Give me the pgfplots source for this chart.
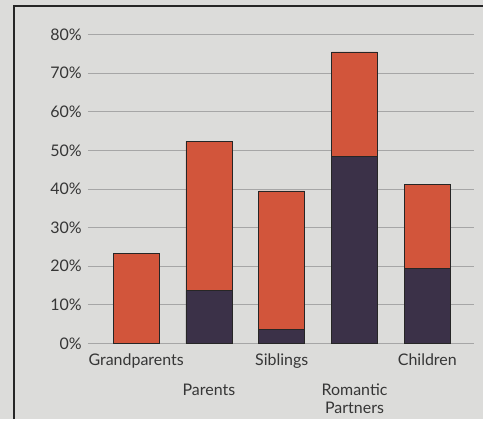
\documentclass[border=0pt]{standalone}
\usepackage{pgfplots}
\pgfplotsset{compat=1.18}
\usepackage{fontspec}
\setmainfont{Lato}
\definecolor{bg}{HTML}{DCDCDA}
\definecolor{topbar}{HTML}{D2553B}
\definecolor{botbar}{HTML}{3B3148}
\definecolor{txt}{HTML}{363636}
\begin{document}
\begin{tikzpicture}
% photo background and frame
\fill[bg] (0,0) rectangle (363pt,315pt);
\draw[black!85, line width=1.5pt] (10.5pt,0) -- (10.5pt,310.5pt) -- (363pt,310.5pt);
\begin{axis}[
at={(66pt,57pt)}, anchor=south west,
scale only axis,
width=290pt, height=232pt,
ybar stacked,
bar width=34.5pt,
xmin=-0.664, xmax=4.637,
ymin=0, ymax=80,
clip=false,
axis line style={draw=none},
tick style={draw=none},
ymajorgrids,
major grid style={black!35, line width=0.6pt},
ytick={0,10,...,80},
yticklabels={0\%,10\%,20\%,30\%,40\%,50\%,60\%,70\%,80\%},
yticklabel style={font=\fontsize{12}{14}\selectfont, text=txt, xshift=-1pt},
xtick={0,1,2,3,4},
xticklabels={Grandparents, \vphantom{Ag}\\[9pt]Parents, Siblings, \vphantom{Ag}\\[9pt]Romantic\\[0pt]Partners, Children},
xticklabel style={font=\fontsize{12}{14}\selectfont, text=txt, align=center, anchor=north, yshift=-4pt},
]
\addplot[fill=botbar, draw=black!85, line width=0.5pt] coordinates {(0,0) (1,13.7) (2,3.6) (3,48.4) (4,19.3)};
\addplot[fill=topbar, draw=black!85, line width=0.5pt] coordinates {(0,23.4) (1,38.6) (2,35.9) (3,27.1) (4,21.8)};
\end{axis}
\end{tikzpicture}
\end{document}
